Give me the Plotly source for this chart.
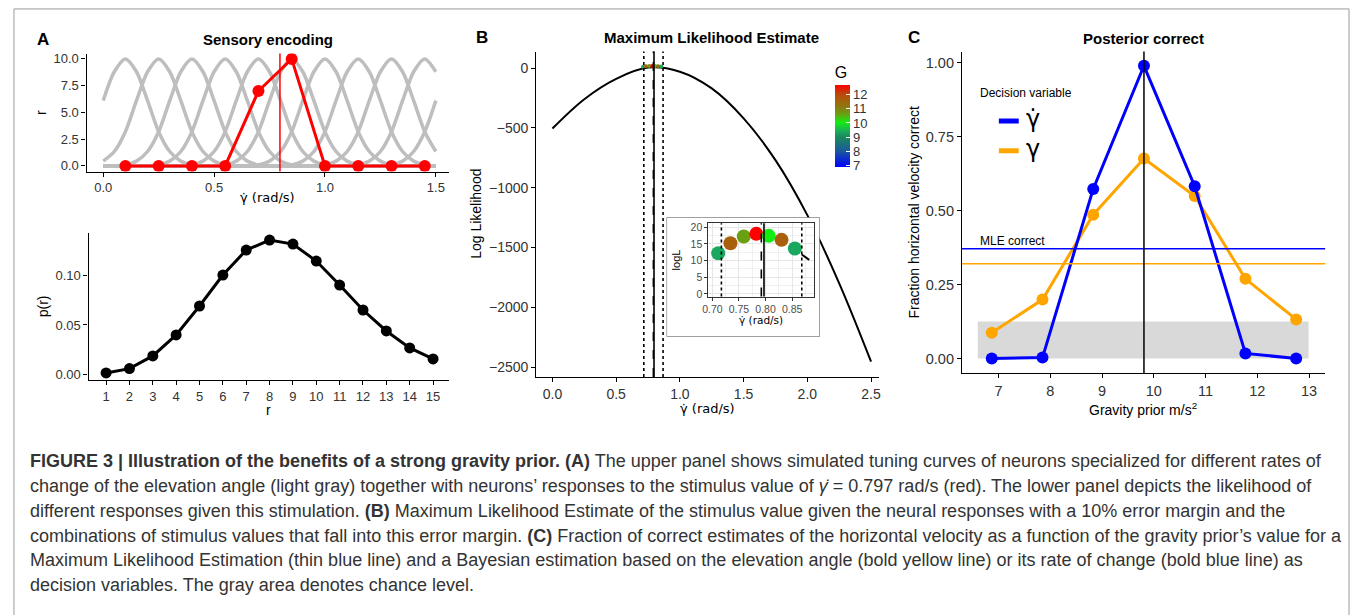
import plotly.graph_objects as go

W, H = 1356, 615

# ---------------- data ----------------
# Panel A (top): tuning curves
tuning_centers = [0.10, 0.25, 0.40, 0.55, 0.70, 0.85, 1.00, 1.15, 1.30, 1.45, 1.60]
grid_step = 0.05
grid_x = [round(grid_step * j, 2) for j in range(31)]          # 0.00 .. 1.50
# shape of one tuning curve, sampled every 0.05 around its centre (read from picture)
profile_values = [0.1, 0.45, 1.35, 3.2, 6.1, 8.8, 10.0, 8.8, 6.1, 3.2, 1.35, 0.45, 0.1]
neuron_pref = [0.10, 0.25, 0.40, 0.55, 0.70, 0.85, 1.00, 1.15, 1.30, 1.45]
responses = [0, 0, 0, 0, 7, 10, 0, 0, 0, 0]
stimulus = 0.797

# Panel A (bottom)
r_vals = list(range(1, 16))
p_r = [0.002, 0.0063, 0.019, 0.040, 0.069, 0.100, 0.125, 0.135, 0.131, 0.114,
       0.090, 0.065, 0.044, 0.027, 0.016]

# Panel B
ll_x = [0.0, 0.25, 0.5, 0.75, 1.0, 1.25, 1.5, 1.75, 2.0, 2.25, 2.5]
ll_y = [-505, -260, -90, 4, -30, -170, -420, -770, -1230, -1800, -2455]
mle_x = [0.711, 0.734, 0.759, 0.7825, 0.806, 0.830, 0.855]
mle_logL = [12.2, 15.2, 17.2, 18.0, 17.4, 16.2, 13.6]
mle_G = [9.35, 11.6, 10.6, 12.66, 10.0, 11.6, 9.35]
inset_curve_x = [0.868, 0.882]
inset_curve_y = [11.8, 10.2]
margin_lo, margin_hi = 0.717, 0.868
mle_est = 0.792
true_val = 0.797
G_min, G_max = 6.84, 12.66
G_ticks = [7, 8, 9, 10, 11, 12]
# colour stops of the G scale (value, colour)
G_stops = [(6.84, "#0000ff"), (8.0, "#1b5a9a"), (9.0, "#1a8a5a"), (9.35, "#1aa860"),
           (10.0, "#11ee11"), (10.6, "#6aa012"), (11.1, "#8a7a10"), (11.6, "#a8600c"),
           (12.1, "#c0400a"), (12.66, "#ff0000")]

# Panel C
gravity = [6.87, 7.85, 8.83, 9.81, 10.79, 11.77, 12.75]
frac_dot = [0.0, 0.003, 0.573, 0.989, 0.582, 0.017, 0.0]
frac_gamma = [0.087, 0.199, 0.486, 0.676, 0.549, 0.269, 0.132]
mle_correct_dot = 0.371
mle_correct_gamma = 0.320
chance_level = 0.125
chance_x = [6.6, 12.99]
true_g = 9.81

caption_lines = [
    "<b>FIGURE 3 | Illustration of the benefits of a strong gravity prior. (A)</b> The upper panel shows simulated tuning curves of neurons specialized for different rates of",
    "change of the elevation angle (light gray) together with neurons\u2019 responses to the stimulus value of <i>\u03b3\u0307</i> = 0.797 rad/s (red). The lower panel depicts the likelihood of",
    "different responses given this stimulation. <b>(B)</b> Maximum Likelihood Estimate of the stimulus value given the neural responses with a 10% error margin and the",
    "combinations of stimulus values that fall into this error margin. <b>(C)</b> Fraction of correct estimates of the horizontal velocity as a function of the gravity prior\u2019s value for a",
    "Maximum Likelihood Estimation (thin blue line) and a Bayesian estimation based on the elevation angle (bold yellow line) or its rate of change (bold blue line) as",
    "decision variables. The gray area denotes chance level.",
]

# ---------------- helpers ----------------
def PX(x): return x / W
def PY(y): return 1 - y / H
def dx(a, b): return [a / W, b / W]
def dy(top, bot): return [1 - bot / H, 1 - top / H]

colorscale = [[(v - G_min) / (G_max - G_min), c] for v, c in G_stops]

FONT = "Liberation Sans, Arial, Helvetica, sans-serif"
GFONT = "DejaVu Sans, Liberation Sans, sans-serif"
TICKC = "#333333"

fig = go.Figure()

# ---------------- Panel A top ----------------
for c in tuning_centers:
    cidx = round(c / grid_step)
    ys = []
    for j, x in enumerate(grid_x):
        k = j - cidx
        ys.append(profile_values[k + 6] if abs(k) <= 6 else 0.0)
    fig.add_trace(go.Scatter(x=grid_x, y=ys, mode="lines",
                             line=dict(color="#bebebe", width=3.5, shape="spline", smoothing=0.8),
                             xaxis="x", yaxis="y", showlegend=False, hoverinfo="skip"))
fig.add_trace(go.Scatter(x=neuron_pref, y=responses, mode="lines+markers",
                         line=dict(color="#ff0000", width=3), marker=dict(color="#ff0000", size=12),
                         xaxis="x", yaxis="y", showlegend=False))

# ---------------- Panel A bottom ----------------
fig.add_trace(go.Scatter(x=r_vals, y=p_r, mode="lines+markers",
                         line=dict(color="black", width=3), marker=dict(color="black", size=11),
                         xaxis="x2", yaxis="y2", showlegend=False))

# ---------------- Panel B ----------------
fig.add_trace(go.Scatter(x=ll_x, y=ll_y, mode="lines", line=dict(color="black", width=2, shape="spline"),
                         xaxis="x3", yaxis="y3", showlegend=False))
fig.add_trace(go.Scatter(x=mle_x, y=mle_logL, mode="markers",
                         marker=dict(size=4, color=mle_G, colorscale=colorscale, cmin=G_min, cmax=G_max,
                                     colorbar=dict(x=PX(833), xanchor="left", xpad=0, y=PY(62), yanchor="top",
                                                   len=104, lenmode="pixels", ypad=0, thickness=15,
                                                   thicknessmode="pixels", outlinewidth=0, tickvals=G_ticks,
                                                   ticks="inside", ticklen=4, tickcolor="white",
                                                   tickfont=dict(size=13, color=TICKC, family=FONT),
                                                   title=dict(text="G", side="top",
                                                              font=dict(size=16, color="black", family=FONT)))),
                         xaxis="x3", yaxis="y3", showlegend=False))

# inset frame (white box)
fig.add_trace(go.Scatter(x=[0, 1, 1, 0, 0], y=[0, 0, 1, 1, 0], mode="lines", fill="toself", fillcolor="white",
                         line=dict(color="#555555", width=1), xaxis="x5", yaxis="y5", showlegend=False,
                         hoverinfo="skip"))
# inset panel
fig.add_trace(go.Scatter(x=inset_curve_x, y=inset_curve_y, mode="lines", line=dict(color="black", width=2),
                         xaxis="x6", yaxis="y6", showlegend=False))
fig.add_trace(go.Scatter(x=mle_x, y=mle_logL, mode="markers",
                         marker=dict(size=14, color=mle_G, colorscale=colorscale, cmin=G_min, cmax=G_max),
                         xaxis="x6", yaxis="y6", showlegend=False))

# ---------------- Panel C ----------------
fig.add_trace(go.Scatter(x=gravity, y=frac_gamma, mode="lines+markers",
                         line=dict(color="#ffa500", width=3), marker=dict(color="#ffa500", size=12),
                         xaxis="x4", yaxis="y4", showlegend=False))
fig.add_trace(go.Scatter(x=gravity, y=frac_dot, mode="lines+markers",
                         line=dict(color="#0000ff", width=3), marker=dict(color="#0000ff", size=12),
                         xaxis="x4", yaxis="y4", showlegend=False))

# ---------------- axes ----------------
def ax(domain, rng, anchor, fs=13, **kw):
    d = dict(domain=domain, range=rng, anchor=anchor, showline=True, linecolor="black", linewidth=1.3,
             ticks="outside", ticklen=4, tickcolor="black", tickwidth=1, showgrid=False, zeroline=False,
             tickfont=dict(size=fs, color=TICKC, family=FONT), mirror=False)
    d.update(kw)
    return d

inset_ax = dict(showline=True, mirror=True, linecolor="#333333", linewidth=1, ticks="outside", ticklen=3,
                tickcolor="#333333", showgrid=True, gridcolor="#e6e6e6", gridwidth=1, zeroline=False,
                tickfont=dict(size=10.5, color="#4d4d4d", family=FONT))

lay = dict(
    xaxis=ax(dx(81, 445), [-0.075, 1.558], "y", tickvals=[0, 0.5, 1.0, 1.5], tickformat=".1f"),
    yaxis=ax(dy(52, 171), [-0.53, 10.5], "x", tickvals=[0, 2.5, 5, 7.5, 10], tickformat=".1f"),
    xaxis2=ax(dx(83, 445), [0.25, 15.67], "y2", tickvals=r_vals),
    yaxis2=ax(dy(233, 381), [-0.005, 0.142], "x2", tickvals=[0, 0.05, 0.10], tickformat=".2f"),
    xaxis3=ax(dx(533, 878), [-0.127, 2.566], "y3", fs=14, tickvals=[0, 0.5, 1.0, 1.5, 2.0, 2.5], tickformat=".1f"),
    yaxis3=ax(dy(50, 378), [-2583, 138], "x3", fs=14, tickvals=[0, -500, -1000, -1500, -2000, -2500]),
    xaxis4=ax(dx(961, 1326), [6.296, 13.31], "y4", fs=14.5, tickvals=[7, 8, 9, 10, 11, 12, 13]),
    yaxis4=ax(dy(50, 374), [-0.049, 1.037], "x4", fs=14.5, tickvals=[0, 0.25, 0.5, 0.75, 1.0], tickformat=".2f"),
    xaxis5=dict(domain=dx(664, 818), range=[0, 1], anchor="y5", visible=False),
    yaxis5=dict(domain=dy(217, 337.5), range=[0, 1], anchor="x5", visible=False),
    xaxis6=dict(domain=dx(706, 812), range=[0.6925, 0.8906], anchor="y6",
                tickvals=[0.70, 0.75, 0.80, 0.85], tickformat=".2f",
                minor=dict(dtick=0.025, tick0=0.675, showgrid=True, gridcolor="#f0f0f0", gridwidth=0.6),
                **inset_ax),
    yaxis6=dict(domain=dy(223, 297), range=[-0.8, 21.2], anchor="x6", tickvals=[0, 5, 10, 15, 20],
                minor=dict(dtick=2.5, tick0=-2.5, showgrid=True, gridcolor="#f0f0f0", gridwidth=0.6),
                **inset_ax),
)

shapes = []
# A: stimulus line
shapes.append(dict(type="line", xref="x", yref="y domain", x0=stimulus, x1=stimulus, y0=0, y1=1,
                   line=dict(color="#ff0000", width=1.5), layer="above"))
# B: margin and estimate lines
for xv, dash in [(margin_lo, "dot"), (margin_hi, "dot"), (mle_est, "dash"), (true_val, "solid")]:
    shapes.append(dict(type="line", xref="x3", yref="y3 domain", x0=xv, x1=xv, y0=0, y1=1,
                       line=dict(color="black", width=1.6, dash=dash), layer="above"))
    shapes.append(dict(type="line", xref="x6", yref="y6 domain", x0=xv, x1=xv, y0=0, y1=1,
                       line=dict(color="black", width=1.6, dash=dash), layer="above"))
# C
shapes.append(dict(type="rect", xref="x4", yref="y4", x0=chance_x[0], x1=chance_x[1], y0=0, y1=chance_level,
                   fillcolor="#d9d9d9", line=dict(width=0), layer="below"))
shapes.append(dict(type="line", xref="x4 domain", yref="y4", x0=0, x1=1, y0=mle_correct_dot, y1=mle_correct_dot,
                   line=dict(color="#0000ff", width=1.5), layer="above"))
shapes.append(dict(type="line", xref="x4 domain", yref="y4", x0=0, x1=1, y0=mle_correct_gamma,
                   y1=mle_correct_gamma, line=dict(color="#ffa500", width=1.5), layer="above"))
shapes.append(dict(type="line", xref="x4", yref="y4 domain", x0=true_g, x1=true_g, y0=0, y1=1,
                   line=dict(color="black", width=1.5), layer="above"))
# C legend keys
shapes.append(dict(type="line", xref="paper", yref="paper", x0=PX(998), x1=PX(1018), y0=PY(120), y1=PY(120),
                   line=dict(color="#0000ff", width=5)))
shapes.append(dict(type="line", xref="paper", yref="paper", x0=PX(998), x1=PX(1018), y0=PY(150), y1=PY(150),
                   line=dict(color="#ffa500", width=5)))
# figure frame
shapes.append(dict(type="rect", xref="paper", yref="paper", x0=PX(8), x1=PX(1350), y0=-0.05, y1=PY(7),
                   line=dict(color="#9a9a9a", width=1), fillcolor="rgba(0,0,0,0)"))

ann = []
def text(t, x, y, size=14, bold=False, angle=0, xanchor="center", color="black", family=FONT):
    ann.append(dict(text=("<b>%s</b>" % t) if bold else t, x=PX(x), y=PY(y), xref="paper", yref="paper",
                    showarrow=False, xanchor=xanchor, yanchor="middle", textangle=angle,
                    font=dict(size=size, color=color, family=family)))

text("A", 37, 38, 17, True)
text("B", 478, 36, 17, True)
text("C", 913, 36, 17, True)
text("Sensory encoding", 263, 38, 15, True)
text("Maximum Likelihood Estimate", 709, 36, 15, True)
text("Posterior correct", 1143, 37, 15, True)
text("\u03b3\u0307 (rad/s)", 263, 197, 13, family=GFONT)
text("r", 35, 111, 14, angle=-90)
text("p(r)", 37, 307, 14, angle=-90)
text("r", 264, 411, 14)
text("Log Likelihood", 473, 214, 14, angle=-90)
text("\u03b3\u0307 (rad/s)", 705, 410, 13, family=GFONT)
text("Fraction horizontal velocity correct", 913, 212, 14, angle=-90)
text("Gravity prior m/s<sup>2</sup>", 1143, 410, 14)
text("logL", 673, 260, 11, angle=-90)
text("\u03b3\u0307 (rad/s)", 759, 321, 10.5, family=GFONT)
text("Decision variable", 977, 92, 12, xanchor="left")
text("\u03b3\u0307", 1023, 118, 24, xanchor="left", family=GFONT)
text("\u03b3", 1023, 148, 24, xanchor="left", family=GFONT)
text("MLE correct", 977, 241, 12, xanchor="left")

for i, line in enumerate(caption_lines):
    text(line, 22, 463 + 25 * i, 18, xanchor="left", color="#333333")

fig.update_layout(width=W, height=H, margin=dict(l=0, r=0, t=0, b=0), paper_bgcolor="white",
                  plot_bgcolor="rgba(0,0,0,0)", shapes=shapes, annotations=ann,
                  font=dict(family=FONT), showlegend=False, **lay)
fig.write_html("out.html", config={"displayModeBar": False},
               post_script="document.body.style.margin='0';document.body.style.overflow='hidden';")
